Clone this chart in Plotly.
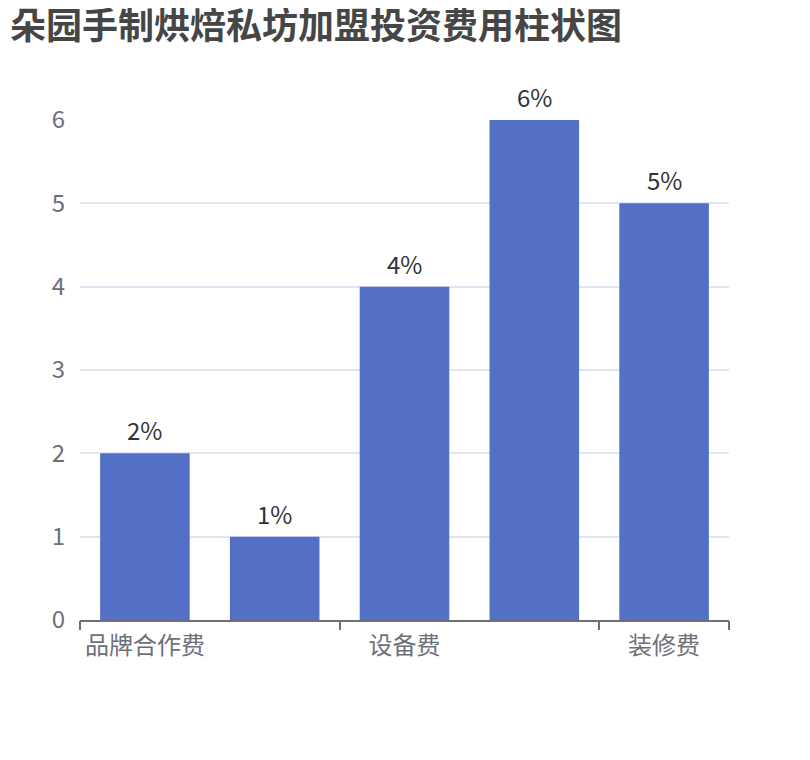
import plotly.graph_objects as go

title = "朵园手制烘焙私坊加盟投资费用柱状图"
categories = ["品牌合作费", "加盟费", "设备费", "首批进货费", "装修费"]
values = [2, 1, 4, 6, 5]
labels = ["2%", "1%", "4%", "6%", "5%"]
shown_ticks = ["品牌合作费", "设备费", "装修费"]
y_ticks = [0, 1, 2, 3, 4, 5, 6]

font = "Noto Sans CJK SC"
axis_color = "#6e7079"

fig = go.Figure()
fig.add_trace(go.Bar(
    x=categories, y=values,
    marker=dict(color="#5470c6", line=dict(width=0)),
    width=0.69,
))
# invisible trace so the boundary-tick axis is drawn
fig.add_trace(go.Scatter(x=[-0.5, 4.5], y=[0, 0], xaxis="x2", mode="none",
                         showlegend=False, hoverinfo="skip"))

# value labels above the bars
for c, v, t in zip(categories, values, labels):
    fig.add_annotation(x=c, y=v, text=t, showarrow=False, yanchor="bottom",
                       yshift=4, font=dict(size=24, color="#333333", family=font))

fig.update_layout(
    width=810, height=760,
    paper_bgcolor="white", plot_bgcolor="white",
    margin=dict(l=72, r=89, t=112, b=148, autoexpand=False),
    showlegend=False,
    title=dict(text=title, x=2 / 810, xanchor="left", xref="container",
               yref="container", y=1 - 18 / 760, yanchor="middle",
               font=dict(size=36, color="#464646", family=font, weight="bold")),
    xaxis=dict(type="category", tickvals=shown_ticks, ticks="",
               showline=True, linecolor=axis_color, linewidth=2,
               tickfont=dict(size=24, color=axis_color, family=font),
               ticklabelstandoff=3, showgrid=False, automargin=False),
    xaxis2=dict(overlaying="x", range=[-0.5, 4.5], tickvals=[-0.5, 1.5, 3.5, 4.5],
                ticks="outside", ticklen=9, tickwidth=2, tickcolor=axis_color,
                showticklabels=False, showgrid=False, zeroline=False,
                side="bottom", anchor="y", automargin=False),
    yaxis=dict(range=[0, 6], tickvals=y_ticks, showgrid=True,
               gridcolor="#e0e6f1", gridwidth=2, zeroline=False,
               showline=False, ticks="", automargin=False,
               tickfont=dict(size=24, color=axis_color, family=font),
               ticklabelstandoff=14),
)

fig.write_html("out.html")
